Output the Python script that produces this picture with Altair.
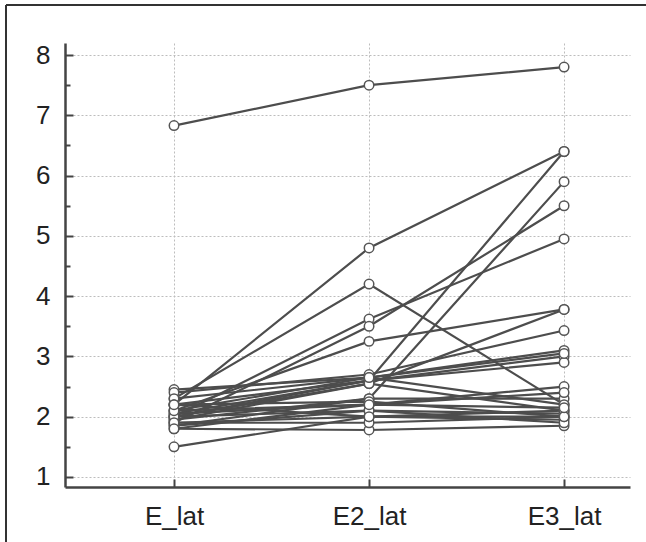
import altair as alt
import pandas as pd

# Measurement stages and each subject's value at every stage
stages = ["E_lat", "E2_lat", "E3_lat"]
e_lat = [6.83, 2.20, 2.30, 2.00, 1.90, 2.10, 2.00, 1.85, 2.45, 2.40,
         2.20, 1.95, 2.05, 1.50, 1.80, 1.90, 2.00, 2.10, 1.95, 2.30,
         2.20, 2.05, 1.85, 2.00, 1.90, 2.10, 2.20, 1.80]
e2_lat = [7.50, 4.80, 4.20, 3.62, 3.50, 3.25, 2.60, 2.30, 2.65, 2.70,
          2.60, 2.55, 2.60, 2.00, 1.78, 1.90, 2.10, 2.20, 2.30, 2.65,
          2.00, 2.20, 2.10, 2.55, 2.00, 2.65, 2.25, 2.20]
e3_lat = [7.80, 6.40, 2.20, 4.95, 5.50, 3.78, 6.40, 5.90, 3.10, 3.43,
          3.00, 3.78, 2.90, 2.10, 1.85, 2.00, 2.05, 2.50, 2.30, 2.20,
          1.95, 2.40, 1.90, 2.10, 2.00, 3.05, 2.00, 2.15]

rows = []
for subject, vals in enumerate(zip(e_lat, e2_lat, e3_lat)):
    for k, v in enumerate(vals):
        rows.append({"subject": subject, "stage": k, "value": v})
df = pd.DataFrame(rows)

W, H = 565, 444
major = [1, 2, 3, 4, 5, 6, 7, 8]
minor = [1.5, 2.5, 3.5, 4.5, 5.5, 6.5, 7.5]
AXIS_COLOR = "#444444"
LINE_COLOR = "#4d4d4d"

x_scale = alt.Scale(domain=[-0.559, 2.338], nice=False, zero=False)
y_scale = alt.Scale(domain=[0.834, 8.2], nice=False, zero=False)
stage_expr = "['" + "','".join(stages) + "'][datum.value]"

grid_style = dict(grid=True, gridColor="#bdbdbd", gridDash=[2, 2], gridWidth=1)

x_main = alt.X(
    "stage:Q", scale=x_scale,
    axis=alt.Axis(values=[0, 1, 2], labelExpr=stage_expr, title=None,
                  ticks=False, tickSize=0, labelPadding=16, labelFontSize=26,
                  labelColor="#222222", domainColor=AXIS_COLOR, domainWidth=2.5,
                  **grid_style),
)
y_main = alt.Y(
    "value:Q", scale=y_scale,
    axis=alt.Axis(values=major, format="d", title=None, ticks=False, tickSize=0,
                  labelPadding=15, labelFontSize=26, labelColor="#222222",
                  domainColor=AXIS_COLOR, domainWidth=2.5, **grid_style),
)

lines = alt.Chart(df).mark_line(color=LINE_COLOR, strokeWidth=2.2).encode(
    x=x_main, y=y_main, detail="subject:N", order="stage:Q"
)
points = alt.Chart(df).mark_circle(
    fill="white", stroke="#555555", strokeWidth=1.5, size=90, opacity=1
).encode(x=x_main, y=y_main)
data_layer = alt.layer(lines, points)

# Inward-pointing ticks: extra axes moved across onto the plot edges
tick_style = dict(labels=False, domain=False, grid=False, title=None,
                  tickColor=AXIS_COLOR, tickWidth=2)
major_ticks = alt.Chart(df).mark_point(opacity=0).encode(
    x=alt.X("stage:Q", scale=x_scale,
            axis=alt.Axis(orient="top", offset=-H, values=[0, 1, 2],
                          tickSize=8, **tick_style)),
    y=alt.Y("value:Q", scale=y_scale,
            axis=alt.Axis(orient="right", offset=-W, values=major,
                          tickSize=8, **tick_style)),
)
minor_ticks = alt.Chart(df).mark_point(opacity=0).encode(
    x=alt.X("stage:Q", scale=x_scale, axis=None),
    y=alt.Y("value:Q", scale=y_scale,
            axis=alt.Axis(orient="right", offset=-W, values=minor,
                          tickSize=5, **tick_style)),
)

# Figure frame along the top and left edges
frame_top = alt.Chart(df).mark_rule(color="#333333", strokeWidth=1.5).encode(
    x=alt.value(-59), x2=alt.value(W + 16), y=alt.value(-38)
)
frame_left = alt.Chart(df).mark_rule(color="#333333", strokeWidth=1.5).encode(
    x=alt.value(-59), y=alt.value(-38), y2=alt.value(H + 55)
)

chart = (
    alt.layer(data_layer, major_ticks, minor_ticks, frame_top, frame_left)
    .resolve_scale(x="independent", y="independent")
    .properties(width=W, height=H, autosize="none",
                padding={"left": 65, "top": 43, "right": 16, "bottom": 55},
                background="white")
    .configure_view(stroke=None)
    .configure_axis(labelFont="Liberation Sans")
)

chart.save("out.html", embed_options={"renderer": "svg", "actions": False})
